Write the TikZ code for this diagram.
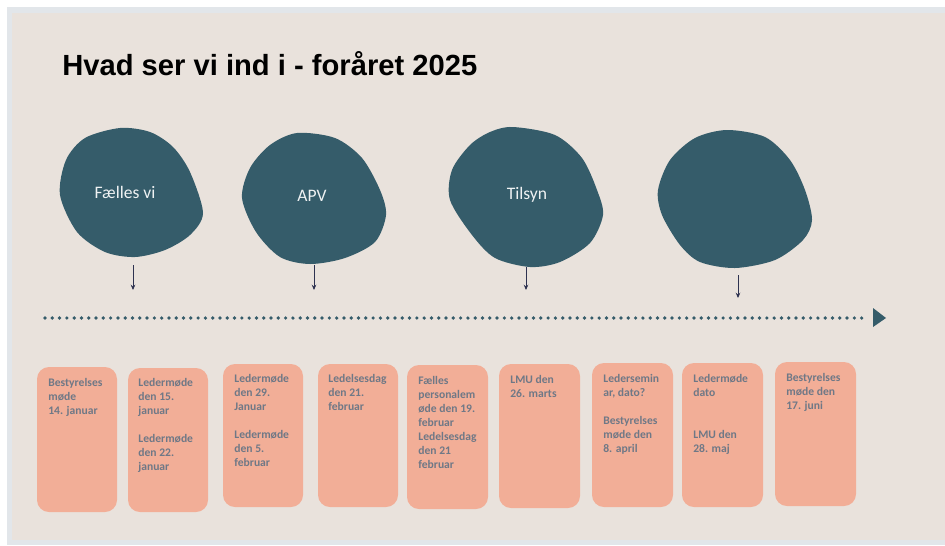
\documentclass[tikz,border=0pt]{standalone}
\usepackage{fontspec}
\setmainfont{Carlito}
\newfontfamily\titlefont{Liberation Sans}
\usetikzlibrary{arrows.meta}
\definecolor{paper}{HTML}{E9E2DC}
\definecolor{frame}{HTML}{E2E6EA}
\definecolor{teal}{HTML}{355C6A}
\definecolor{salmon}{HTML}{F2AE97}
\definecolor{datetext}{HTML}{6F7886}
\definecolor{pinblue}{HTML}{2E3250}
\tikzset{
  blob/.style={fill=teal},
  blobtext/.style={text=white!92!teal, font=\fontsize{10}{12}\selectfont},
  datebox/.style={fill=salmon, rounded corners=0.24cm},
  datetext/.style={anchor=north west, inner sep=0pt, align=left, text=datetext,
    font=\bfseries\fontsize{6.6}{8}\selectfont},
  pin/.style={pinblue, line width=0.5pt, -{Stealth[length=3pt,width=2.6pt]}},
}
\begin{document}
\begin{tikzpicture}[x=0.02cm,y=-0.02cm]
\useasboundingbox (0,0) rectangle (945,545);
\fill[white] (0,0) rectangle (945,545);
\fill[frame] (7,7) rectangle (945,545);
\fill[paper] (12,13) rectangle (945,540);
% overskrift
\node [right, inner sep=0pt, font=\titlefont\bfseries\fontsize{16.6}{20}\selectfont] (title) at (62,64) {Hvad ser vi ind i - foråret 2025};
% fire temaer
\fill[blob] plot[smooth cycle] coordinates {(120,128) (150,132) (173,147) (190,172) (203,213) (190,235) (165,250) (135,257) (105,252) (77,232) (60,195) (66,160) (85,138)};
\node [blobtext] (fv) at (125,192) {Fælles vi};
\fill[blob] plot[smooth cycle] coordinates {(297,133) (335,138) (362,158) (380,190) (386,215) (375,242) (345,258) (310,264) (280,257) (256,232) (242,198) (250,168) (270,145)};
\node [blobtext] (apv) at (312,196) {APV};
\fill[blob] plot[smooth cycle] coordinates {(513,127) (555,135) (582,158) (597,190) (603,215) (590,243) (560,262) (530,267) (495,258) (472,235) (450,200) (452,170) (470,145) (490,132)};
\node [blobtext] (tilsyn) at (527,195) {Tilsyn};
\fill[blob] plot[smooth cycle] coordinates {(727,130) (765,137) (790,160) (805,190) (812,220) (803,240) (775,260) (735,268) (700,262) (680,245) (662,215) (658,190) (670,160) (695,138)};
% pile ned mod tidslinjen
\coordinate (p1) at (133,265); \coordinate (q1) at (133,290);
\coordinate (p2) at (314,265); \coordinate (q2) at (314,290);
\coordinate (p3) at (526,267); \coordinate (q3) at (526,290);
\coordinate (p4) at (738,275); \coordinate (q4) at (738,298);
\foreach \i in {1,...,4}
  \draw [pin] (p\i) -- (q\i);
% tidslinje
\coordinate (start) at (45,318);
\coordinate (slut) at (867,318);
\draw [teal, line width=2.1pt, line cap=round, dash pattern=on 0pt off 4.15pt] (start) -- (slut);
\fill [teal] (873,308) -- (886,318) -- (873,327) -- cycle;
% datoer
\fill[datebox] (37,367) rectangle (117,512);
\node [datetext] (d1) at (48,378) {Bestyrelses\\møde\\14. januar};
\fill[datebox] (128,368) rectangle (208,512);
\node [datetext] (d2) at (138,378) {Ledermøde\\den 15.\\januar\\[8pt]Ledermøde\\den 22.\\januar};
\fill[datebox] (223,364) rectangle (303,507);
\node [datetext] (d3) at (234,374) {Ledermøde\\den 29.\\Januar\\[8pt]Ledermøde\\den 5.\\februar};
\fill[datebox] (318,364) rectangle (398,507);
\node [datetext] (d4) at (328,374) {Ledelsesdag\\den 21.\\februar};
\fill[datebox] (407,365) rectangle (488,509);
\node [datetext] (d5) at (418,376) {Fælles\\personalem\\øde den 19.\\februar\\Ledelsesdag\\den 21\\februar};
\fill[datebox] (499,364) rectangle (580,508);
\node [datetext] (d6) at (510,375) {LMU den\\26. marts};
\fill[datebox] (592,363) rectangle (673,507);
\node [datetext] (d7) at (603,374) {Ledersemin\\ar, dato?\\[8pt]Bestyrelses\\møde den\\8. april};
\fill[datebox] (682,363) rectangle (763,507);
\node [datetext] (d8) at (693,374) {Ledermøde\\dato\\[16pt]LMU den\\28. maj};
\fill[datebox] (775,362) rectangle (856,506);
\node [datetext] (d9) at (786,373) {Bestyrelses\\møde den\\17. juni};
\end{tikzpicture}
\end{document}
